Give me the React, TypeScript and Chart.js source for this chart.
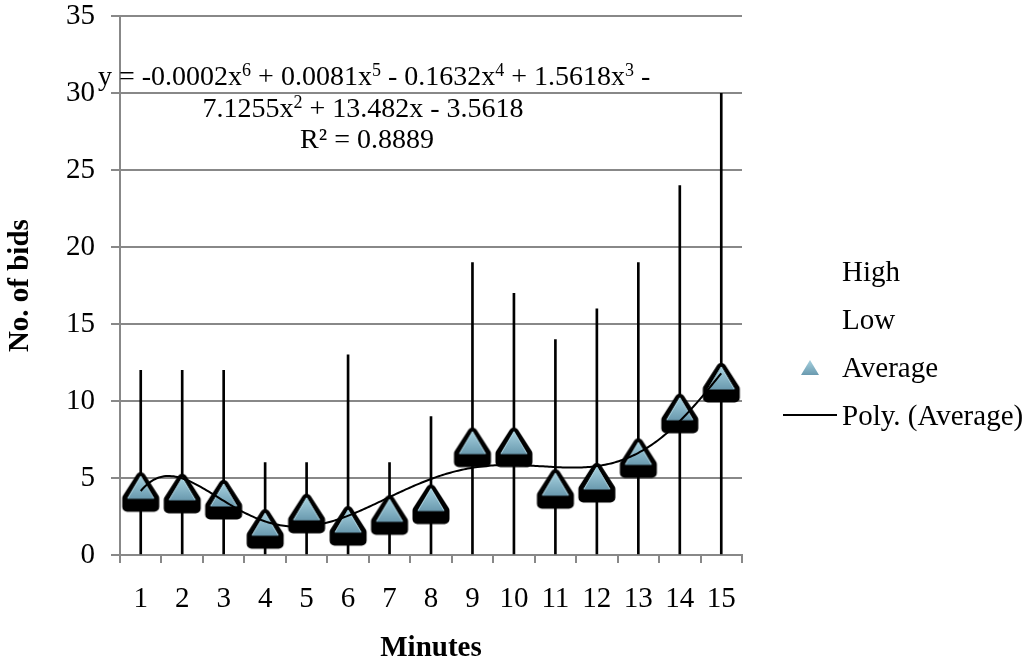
import React, { useEffect, useRef } from 'react';
import { Chart, registerables } from 'chart.js';

Chart.register(...registerables);

// ---- data ----
const minutes = ['1', '2', '3', '4', '5', '6', '7', '8', '9', '10', '11', '12', '13', '14', '15'];
const highBids = [12, 12, 12, 6, 6, 13, 6, 9, 19, 17, 14, 16, 19, 24, 30];
const lowBids = [0, 0, 0, 0, 0, 0, 0, 0, 0, 0, 0, 0, 0, 0, 0];
const averageBids = [4.4, 4.3, 3.9, 2.0, 3.0, 2.2, 2.9, 3.6, 7.3, 7.3, 4.6, 5.0, 6.6, 9.5, 11.5];
const legendLabels = ['High', 'Low', 'Average', 'Poly. (Average)'];
// equation text runs: [text, isSuperscript]
const equationLine1: [string, boolean][] = [
  ['y = -0.0002x', false], ['6', true], [' + 0.0081x', false], ['5', true],
  [' - 0.1632x', false], ['4', true], [' + 1.5618x', false], ['3', true], [' -', false],
];
const equationLine2: [string, boolean][] = [
  ['7.1255x', false], ['2', true], [' + 13.482x - 3.5618', false],
];
const equationLine3: [string, boolean][] = [['R\u00b2 = 0.8889', false]];
const trendDegree = 6;

const FONT = '"Liberation Serif", "Times New Roman", serif';
const FS = 29;
const EQ_FS = 28;
const SUP_FS = 18;
const GRID = '#888888';

// least squares polynomial fit (in scaled variable t = (x - 8) / 7)
function polyFit(xs: number[], ys: number[], deg: number): number[] {
  const n = deg + 1;
  const A: number[][] = Array.from({ length: n }, () => new Array(n + 1).fill(0));
  xs.forEach((xv, k) => {
    const t = (xv - 8) / 7;
    for (let i = 0; i < n; i++) {
      for (let j = 0; j < n; j++) A[i][j] += Math.pow(t, i + j);
      A[i][n] += ys[k] * Math.pow(t, i);
    }
  });
  for (let c = 0; c < n; c++) {
    let p = c;
    for (let r = c + 1; r < n; r++) if (Math.abs(A[r][c]) > Math.abs(A[p][c])) p = r;
    [A[c], A[p]] = [A[p], A[c]];
    for (let r = 0; r < n; r++) {
      if (r === c) continue;
      const f = A[r][c] / A[c][c];
      for (let k = c; k <= n; k++) A[r][k] -= f * A[c][k];
    }
  }
  return A.map((row, i) => row[n] / A[i][i]);
}

function evalPoly(coef: number[], x: number): number {
  const t = (x - 8) / 7;
  let s = 0;
  for (let i = coef.length - 1; i >= 0; i--) s = s * t + coef[i];
  return s;
}

function makeMarker(): HTMLCanvasElement {
  const c = document.createElement('canvas');
  c.width = 48;
  c.height = 62;
  const g = c.getContext('2d')!;
  const cx = 24;
  const cy = 31;
  // black outline + drop shadow as one shape
  g.beginPath();
  g.moveTo(cx, cy - 10);
  g.lineTo(cx + 13.5, cy + 11);
  g.lineTo(cx + 13.5, cy + 19.5);
  g.lineTo(cx - 13.5, cy + 19.5);
  g.lineTo(cx - 13.5, cy + 11);
  g.closePath();
  g.lineJoin = 'round';
  g.lineWidth = 10;
  g.fillStyle = '#000';
  g.strokeStyle = '#000';
  g.fill();
  g.stroke();
  // blue triangle
  g.beginPath();
  g.moveTo(cx, cy - 11.5);
  g.lineTo(cx + 13.5, cy + 11.5);
  g.lineTo(cx - 13.5, cy + 11.5);
  g.closePath();
  const grd = g.createLinearGradient(0, cy - 11.5, 0, cy + 11.5);
  grd.addColorStop(0, '#a6d1df');
  grd.addColorStop(1, '#6a9aaf');
  g.fillStyle = grd;
  g.fill();
  g.beginPath();
  g.moveTo(cx - 13, cy + 11);
  g.lineTo(cx, cy - 11);
  g.lineTo(cx + 13, cy + 11);
  g.lineWidth = 1;
  g.strokeStyle = '#b4d9e5';
  g.stroke();
  return c;
}

function drawRich(ctx: CanvasRenderingContext2D, runs: [string, boolean][], x: number, y: number, align: 'left' | 'center') {
  const base = `${EQ_FS}px ${FONT}`;
  const sup = `${SUP_FS}px ${FONT}`;
  let total = 0;
  runs.forEach(([t, s]) => {
    ctx.font = s ? sup : base;
    total += ctx.measureText(t).width;
  });
  let cx = align === 'center' ? x - total / 2 : x;
  ctx.textAlign = 'left';
  runs.forEach(([t, s]) => {
    ctx.font = s ? sup : base;
    ctx.fillText(t, cx, s ? y - 9 : y);
    cx += ctx.measureText(t).width;
  });
}

const trendPlugin = {
  id: 'polyTrend',
  afterDatasetsDraw(chart: any) {
    const xs = averageBids.map((_, i) => i + 1);
    const coef = polyFit(xs, averageBids, trendDegree);
    const xScale = chart.scales.x;
    const yScale = chart.scales.y;
    const ctx = chart.ctx;
    ctx.save();
    ctx.beginPath();
    const N = 300;
    for (let k = 0; k <= N; k++) {
      const xv = 1 + ((xs.length - 1) * k) / N;
      const px = xScale.getPixelForValue(xv - 1);
      const py = yScale.getPixelForValue(evalPoly(coef, xv));
      if (k === 0) ctx.moveTo(px, py);
      else ctx.lineTo(px, py);
    }
    ctx.strokeStyle = '#000';
    ctx.lineWidth = 2;
    ctx.stroke();
    ctx.restore();
  },
};

const textPlugin = {
  id: 'legendAndEquation',
  afterDraw(chart: any) {
    const ctx = chart.ctx;
    ctx.save();
    ctx.fillStyle = '#000';
    ctx.textBaseline = 'alphabetic';
    // equation
    drawRich(ctx, equationLine1, 98, 85, 'left');
    drawRich(ctx, equationLine2, 363, 117, 'center');
    drawRich(ctx, equationLine3, 367, 148, 'center');
    // legend
    ctx.font = `${FS}px ${FONT}`;
    ctx.textAlign = 'left';
    const ys = [281, 329, 377, 425];
    legendLabels.forEach((t, i) => ctx.fillText(t, 842, ys[i]));
    // average marker
    ctx.beginPath();
    ctx.moveTo(810, 360);
    ctx.lineTo(819, 375);
    ctx.lineTo(801, 375);
    ctx.closePath();
    const grd = ctx.createLinearGradient(0, 360, 0, 375);
    grd.addColorStop(0, '#a6d1df');
    grd.addColorStop(1, '#6a9aaf');
    ctx.fillStyle = grd;
    ctx.fill();
    // poly line
    ctx.beginPath();
    ctx.moveTo(783, 415);
    ctx.lineTo(837, 415);
    ctx.strokeStyle = '#000';
    ctx.lineWidth = 2;
    ctx.stroke();
    ctx.restore();
  },
};

export default function App() {
  const ref = useRef<HTMLCanvasElement>(null);
  useEffect(() => {
    document.body.style.margin = '0';
    const canvas = ref.current!;
    const marker = makeMarker();
    const chart = new Chart(canvas, {
      type: 'bar',
      data: {
        labels: minutes,
        datasets: [
          {
            type: 'bar',
            label: 'High',
            data: highBids.map((h, i) => [lowBids[i], h]) as any,
            backgroundColor: '#000',
            barThickness: 2,
            order: 2,
          },
          {
            type: 'line',
            label: 'Average',
            data: averageBids,
            showLine: false,
            pointStyle: marker as any,
            pointRadius: 14,
            order: 1,
          } as any,
        ],
      },
      options: {
        responsive: false,
        animation: false,
        events: [],
        layout: { padding: { left: 0, right: 287, top: 15, bottom: 0 } },
        plugins: { legend: { display: false }, tooltip: { enabled: false } },
        scales: {
          x: {
            offset: true,
            grid: { offset: true, drawOnChartArea: false, drawTicks: true, tickLength: 8, color: GRID, lineWidth: 2 },
            border: { color: GRID, width: 2 },
            ticks: { font: { family: FONT, size: FS }, color: '#000', padding: 19, maxRotation: 0, autoSkip: false },
            title: {
              display: true,
              text: 'Minutes',
              font: { family: FONT, size: FS, weight: 'bold' },
              color: '#000',
              padding: { top: 0, bottom: 0 },
            },
            afterFit: (s: any) => {
              s.height = 111;
            },
          },
          y: {
            min: 0,
            max: 35,
            ticks: { stepSize: 5, font: { family: FONT, size: FS, lineHeight: 0.02 }, color: '#000', padding: 16 },
            grid: { color: GRID, lineWidth: 2, tickLength: 9 },
            border: { color: GRID, width: 2 },
            title: {
              display: true,
              text: 'No. of bids',
              font: { family: FONT, size: FS, weight: 'bold' },
              color: '#000',
              padding: { top: 3, bottom: 0 },
            },
            afterFit: (s: any) => {
              s.width = 120;
            },
          },
        },
      } as any,
      plugins: [trendPlugin, textPlugin],
    });
    return () => chart.destroy();
  }, []);
  return <canvas ref={ref} width={1029} height={666} style={{ display: 'block' }} />;
}
